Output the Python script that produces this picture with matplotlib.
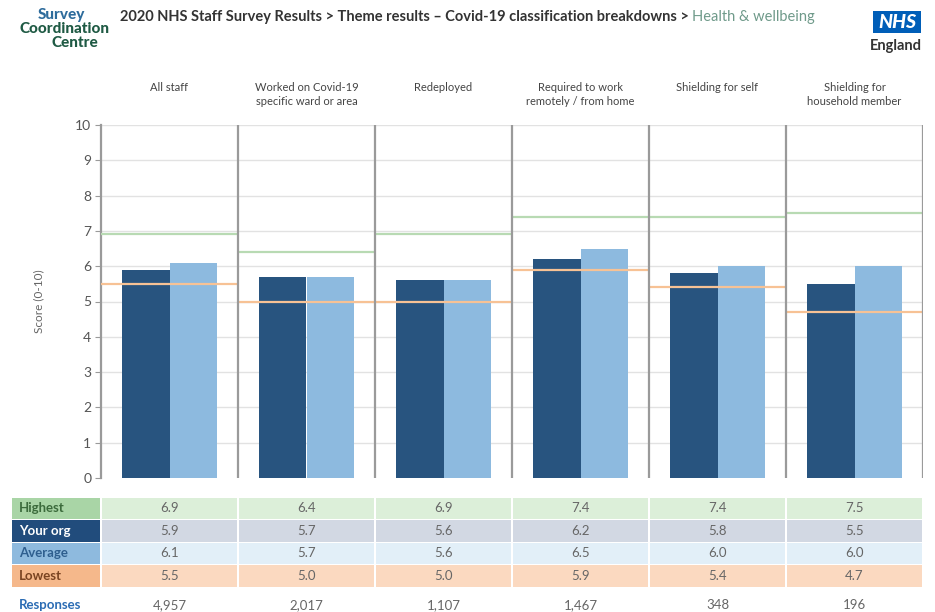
import matplotlib
matplotlib.use("Agg")
import matplotlib.pyplot as plt
from matplotlib.patches import Rectangle
from matplotlib.transforms import blended_transform_factory

plt.rcParams['font.family'] = ['Lato', 'DejaVu Sans']

# theme results per covid-19 group
groups = ["All staff", "Worked on Covid-19\nspecific ward or area", "Redeployed",
          "Required to work\nremotely / from home", "Shielding for self",
          "Shielding for\nhousehold member"]
highest = [6.9, 6.4, 6.9, 7.4, 7.4, 7.5]
your_org = [5.9, 5.7, 5.6, 6.2, 5.8, 5.5]
average = [6.1, 5.7, 5.6, 6.5, 6.0, 6.0]
lowest = [5.5, 5.0, 5.0, 5.9, 5.4, 4.7]
responses = ["4,957", "2,017", "1,107", "1,467", "348", "196"]

dark_blue = "#28547f"
light_blue = "#8dbadf"
green_line = "#b8dab3"
orange_line = "#f7c295"

W, H = 935, 612
fig = plt.figure(figsize=(W / 100, H / 100), dpi=100)

def fx(px):
    return px / W

def fy(px):
    return 1 - px / H

# main chart area
ax = fig.add_axes([fx(101), fy(478), fx(923) - fx(101), fy(125) - fy(478)])
n = len(groups)
ax.set_xlim(0, n)
ax.set_ylim(0, 10)
bw = 0.35
for i in range(n):
    ax.bar(i + 0.5 - bw / 2, your_org[i], width=bw, color=dark_blue, zorder=2)
    ax.bar(i + 0.5 + bw / 2, average[i], width=bw, color=light_blue, zorder=2)
    ax.hlines(highest[i], i, i + 1, color=green_line, lw=1.6, zorder=3)
    ax.hlines(lowest[i], i, i + 1, color=orange_line, lw=1.6, zorder=3)

for y in range(1, 11):
    ax.axhline(y, color="#e2e2e2", lw=1, zorder=1)
for i in range(1, n + 1):
    ax.axvline(i, color="#9a9a9a", lw=1.6, zorder=4)

for s in ["top", "right", "bottom"]:
    ax.spines[s].set_visible(False)
ax.spines["left"].set_color("#9a9a9a")
ax.spines["left"].set_linewidth(1.6)
ax.set_xticks([])
ax.set_yticks(range(0, 11))
ax.tick_params(axis="y", length=4, color="#9a9a9a", labelsize=10, labelcolor="#555555", pad=3)
ax.set_ylabel("Score (0-10)", fontsize=8.5, color="#666666", labelpad=22)

# column headings above each panel
tr = blended_transform_factory(ax.transData, fig.transFigure)
for i, g in enumerate(groups):
    ax.text(i + 0.5, fy(82), g, transform=tr, ha="center", va="top",
            fontsize=8, color="#444444", linespacing=1.3)

# results table
tab = fig.add_axes([fx(101), fy(612), fx(923) - fx(101), fy(497) - fy(612)])
tab.set_xlim(0, n)
tab.set_ylim(5.11, 0)
tab.axis("off")

rows = [
    ("Highest", highest, "#a9d5a6", "#dcefd9", "#3c6b3c"),
    ("Your org", your_org, "#214c7c", "#d2d8e3", "#ffffff"),
    ("Average", average, "#8ebade", "#e2eff8", "#2f5f8f"),
    ("Lowest", lowest, "#f5b88b", "#fbd9c0", "#7a4422"),
]
label_x0 = -0.65
for r, (name, vals, lab_c, cell_c, txt_c) in enumerate(rows):
    y0 = r + 0.04
    h = 0.94
    tab.add_patch(Rectangle((label_x0, y0), -label_x0 - 0.01, h, color=lab_c,
                            clip_on=False, lw=0))
    tab.text(label_x0 + 0.05, y0 + h / 2, name, ha="left", va="center",
             fontsize=9.5, fontweight="bold", color=txt_c, clip_on=False)
    for i, v in enumerate(vals):
        tab.add_patch(Rectangle((i + 0.005, y0), 0.99, h, color=cell_c, lw=0))
        tab.text(i + 0.5, y0 + h / 2, f"{v:.1f}", ha="center", va="center",
                 fontsize=9.5, color="#666666")

tab.text(label_x0 + 0.05, 4.8, "Responses", ha="left", va="center", fontsize=9.5,
         fontweight="bold", color="#2b6cb4", clip_on=False)
for i, s in enumerate(responses):
    tab.text(i + 0.5, 4.8, s, ha="center", va="center", fontsize=9.5, color="#666666")

# page title
t1 = fig.text(fx(120), fy(17),
              "2020 NHS Staff Survey Results > Theme results \u2013 Covid-19 classification breakdowns > ",
              fontsize=10.5, fontweight="bold", color="#333333", va="center", ha="left")
fig.canvas.draw()
bb = t1.get_window_extent()
fig.text(bb.x1 / W, fy(17), "Health & wellbeing", fontsize=10.5, color="#6f9a8a",
         va="center", ha="left")

# logos
fig.text(fx(61), fy(15), "Survey", fontsize=11, fontweight="black", color="#2e6c9c",
         ha="center", va="center")
fig.text(fx(64), fy(29), "Coordination", fontsize=11, fontweight="black", color="#1f5a44",
         ha="center", va="center")
fig.text(fx(75), fy(43), "Centre", fontsize=11, fontweight="black", color="#1f5a44",
         ha="center", va="center")

fig.patches.append(Rectangle((fx(873), fy(33)), fx(921) - fx(873), fy(11) - fy(33),
                             transform=fig.transFigure, color="#005eb8", lw=0))
fig.text(fx(897), fy(22), "NHS", fontsize=14, fontweight="black", style="italic",
         color="white", ha="center", va="center")
fig.text(fx(922), fy(46), "England", fontsize=10.5, fontweight="bold", color="#333333",
         ha="right", va="center")

fig.savefig("out.png", dpi=100, facecolor="white")
